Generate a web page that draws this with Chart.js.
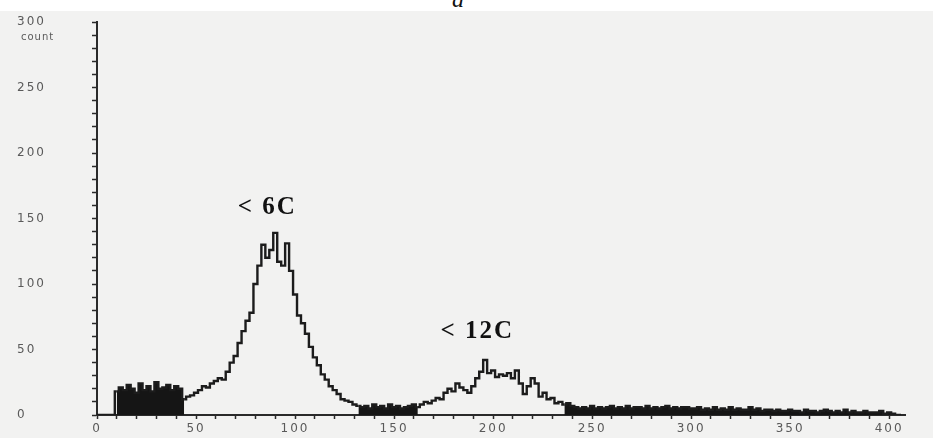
<!DOCTYPE html>
<html>
<head>
<meta charset="utf-8">
<script src="https://cdn.jsdelivr.net/npm/chart.js@4.4.1/dist/chart.umd.min.js"></script>
<style>
  html, body { margin: 0; padding: 0; }
  body { width: 933px; height: 438px; background: #f2f2f1; position: relative; overflow: hidden; }
  #topband { position: absolute; left: 0; top: 0; width: 933px; height: 11px; background: #fff; }
  #panel { position: absolute; left: 452px; top: -14px; font: italic 24px "Liberation Serif", serif; color: #111; }
  #wrap { position: absolute; left: 0; top: 0; width: 933px; height: 438px; }
</style>
</head>
<body>
<div id="topband"></div>
<div id="panel">a</div>
<div id="wrap"><canvas id="c"></canvas></div>
<script>
// histogram channels: first channel and bin width
const CH_START = 0;
const CH_STEP = 2;

// counts per channel bin
const counts = [
  0, 0, 0, 0, 0,
  18, 21, 19, 23, 20, 17, 24, 19, 22, 18, 25, 20, 21, 23, 19, 22, 20,
  12, 14, 15, 17, 19, 22, 21, 24, 26, 28, 27,
  33, 40, 45, 55, 64, 72, 78, 100, 114, 130, 120, 126, 139, 117, 114, 131, 110, 92,
  76, 70, 62, 52, 44, 38, 31, 27, 22, 19, 16, 12, 11, 10, 8, 7,
  6, 7, 5, 8, 6, 7, 5, 8, 6, 7, 5, 6, 7, 8, 6,
  8, 10, 9, 11, 13, 12, 17, 20, 18, 24, 21, 19, 17, 22, 28, 33, 42, 32, 34, 29,
  31, 30, 32, 28, 34, 24, 16, 22, 28, 24, 14, 17, 12, 13, 9, 10, 8, 9, 7, 6, 5,
  6, 5, 7, 5, 6, 5, 6, 7, 5, 6, 5, 7, 5, 6, 6, 5, 7, 5, 6, 5, 6, 7, 5, 6, 5, 6, 6, 5,
  5, 6, 4, 5, 4, 6, 4, 5, 4, 6, 4, 5, 4, 4, 6, 4, 5, 3, 4, 4,
  3, 4, 3, 3, 4, 3, 3, 2, 4, 3, 3, 2, 3, 4, 3, 2, 3, 2, 4, 2, 3, 2, 2, 3, 2, 2, 2, 3, 1, 2, 1, 0, 0
];

// channel ranges where the trace is so noisy it prints as a solid block
const solidRanges = [[10, 44], [132, 162], [236, 406]];

const X_MAX = 408;
const Y_MAX = 300;
const xLabels = [0, 50, 100, 150, 200, 250, 300, 350, 400];
const yLabels = [0, 50, 100, 150, 200, 250, 300];
const peakNotes = [
  { text: '< 6C', x: 86, y: 158 },
  { text: '< 12C', x: 192, y: 64 },
];

const points = counts.map((c, i) => ({ x: CH_START + i * CH_STEP, y: c }));

const AXIS = '#2a2a2a';
const TICK_TXT = '#5a5a5a';
const tickFont = { family: 'DejaVu Sans', size: 12 };

const inSolid = (a, b) => solidRanges.some(([lo, hi]) => a >= lo && b <= hi);

// wide-set tick lettering like the scan
const spacing = {
  id: 'spacing',
  beforeDraw(chart) { chart.ctx.letterSpacing = '2px'; },
  afterDatasetsDraw(chart) { chart.ctx.letterSpacing = '0px'; },
};

const notes = {
  id: 'notes',
  afterDraw(chart) {
    const { ctx, scales: { x, y } } = chart;
    ctx.save();
    ctx.letterSpacing = '2px';
    ctx.fillStyle = '#111';
    ctx.font = 'bold 25px "Liberation Serif"';
    ctx.textAlign = 'center';
    ctx.textBaseline = 'middle';
    for (const n of peakNotes) ctx.fillText(n.text, x.getPixelForValue(n.x), y.getPixelForValue(n.y));
    ctx.fillStyle = TICK_TXT;
    ctx.letterSpacing = '1px';
    ctx.font = '10px "DejaVu Sans"';
    ctx.textAlign = 'left';
    ctx.fillText('count', 21, y.getPixelForValue(Y_MAX) + 15);
    ctx.restore();
  },
};

const minorEvery10 = s => {
  s.ticks = [];
  for (let v = 0; v <= s.max; v += 10) s.ticks.push({ value: v });
};

new Chart(document.getElementById('c'), {
  type: 'line',
  data: {
    datasets: [{
      data: points,
      borderColor: '#1c1c1c',
      borderWidth: 2.4,
      pointRadius: 0,
      stepped: 'middle',
      fill: 'origin',
      backgroundColor: 'rgba(0,0,0,0)',
      segment: {
        backgroundColor: c => inSolid(c.p0.parsed.x, c.p1.parsed.x) ? '#151515' : 'rgba(0,0,0,0)',
      },
    }],
  },
  options: {
    responsive: true,
    maintainAspectRatio: false,
    animation: false,
    layout: { padding: { top: 22, right: 28, left: 17, bottom: 0 } },
    plugins: { legend: { display: false }, tooltip: { enabled: false } },
    scales: {
      x: {
        type: 'linear',
        min: 0,
        max: X_MAX,
        afterBuildTicks: minorEvery10,
        afterFit: s => { s.height = 23; },
        border: { color: AXIS, width: 2 },
        grid: { drawOnChartArea: false, drawTicks: true, tickLength: 4, tickColor: AXIS, tickWidth: 1.5 },
        ticks: {
          color: TICK_TXT,
          font: tickFont,
          padding: 3,
          maxRotation: 0,
          autoSkip: false,
          callback: v => xLabels.includes(v) ? String(v) : '',
        },
      },
      y: {
        min: 0,
        max: Y_MAX,
        afterBuildTicks: minorEvery10,
        afterFit: s => { s.width = 80; },
        border: { color: AXIS, width: 2 },
        grid: { drawOnChartArea: false, drawTicks: true, tickLength: 5, tickColor: AXIS, tickWidth: 1.5 },
        ticks: {
          color: TICK_TXT,
          font: tickFont,
          crossAlign: 'far',
          autoSkip: false,
          callback: v => yLabels.includes(v) ? String(v) : '',
        },
      },
    },
  },
  plugins: [spacing, notes],
});
</script>
</body>
</html>
